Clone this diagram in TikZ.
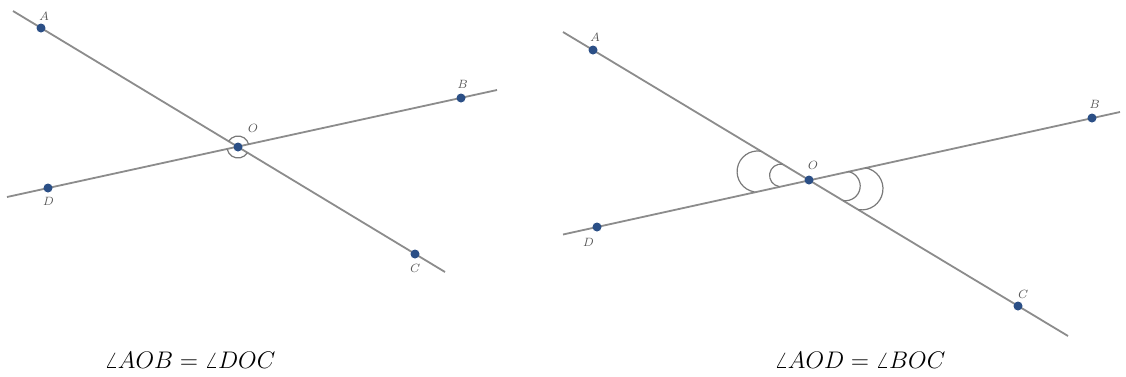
\documentclass[tikz,border=0pt]{standalone}
\definecolor{linegray}{HTML}{8C8C8C}
\definecolor{arcgray}{HTML}{7A7A7A}
\definecolor{dotblue}{HTML}{2B4F86}
\definecolor{labelgray}{HTML}{555555}
\begin{document}
\begin{tikzpicture}[x=0.5pt,y=-0.5pt,
  ln/.style={draw=linegray, line width=0.9pt},
  pt/.style={circle, fill=dotblue, inner sep=0pt, minimum size=4.5pt},
  lbl/.style={font=\fontsize{6}{7}\selectfont\itshape, text=labelgray, inner sep=0pt},
  arcmark/.style={draw=arcgray, line width=0.6pt},
  eq/.style={font=\fontsize{11.7}{14}\selectfont, inner sep=0pt, anchor=base}]
\useasboundingbox (0,0) rectangle (1126,376);
\fill[white] (0,0) rectangle (1126,376);

% ---------- left figure ----------
\coordinate (A1e) at (13,11);
\coordinate (C1e) at (445,272);
\coordinate (D1e) at (7,197);
\coordinate (B1e) at (497,90);
\draw[ln] (A1e) -- (C1e);
\draw[ln] (D1e) -- (B1e);
\node[pt] (A1) at (41,28) {};
\node[pt] (B1) at (461,98) {};
\node[pt] (C1) at (415,254) {};
\node[pt] (D1) at (48,188) {};
\node[pt] (O1) at (238,147) {};
\begin{scope}[yscale=-1]
  \draw[arcmark] (O1.center) ++(12.3:11) arc[start angle=12.3, end angle=149, radius=11];
  \draw[arcmark] (O1.center) ++(192.3:11) arc[start angle=192.3, end angle=329, radius=11];
\end{scope}
\node[lbl] (lA1) at (44,16) {A};
\node[lbl] (lB1) at (462,84) {B};
\node[lbl] (lC1) at (414,268) {C};
\node[lbl] (lD1) at (48,201) {D};
\node[lbl] (lO1) at (252,128) {O};
\node[eq] (eq1) at (190,368) {$\angle AOB = \angle DOC$};

% ---------- right figure ----------
\coordinate (A2e) at (563,32);
\coordinate (C2e) at (1068,336);
\coordinate (D2e) at (563,234.5);
\coordinate (B2e) at (1120,112);
\draw[ln] (A2e) -- (C2e);
\draw[ln] (D2e) -- (B2e);
\node[pt] (A2) at (593,50) {};
\node[pt] (B2) at (1092,118) {};
\node[pt] (C2) at (1018,306) {};
\node[pt] (D2) at (597,227) {};
\node[pt] (O2) at (809,180) {};
\begin{scope}[yscale=-1]
  % angle AOD: two half-circle marks between the rays
  \draw[arcmark] (O2.center) ++(170.65:28.5) ++(80.65:11.3) arc[start angle=80.65, end angle=260.65, radius=11.3];
  \draw[arcmark] (O2.center) ++(170.65:52) ++(80.65:20.6) arc[start angle=80.65, end angle=260.65, radius=20.6];
  % angle BOC
  \draw[arcmark] (O2.center) ++(-9.35:37) ++(80.65:14.7) arc[start angle=80.65, end angle=-99.35, radius=14.7];
  \draw[arcmark] (O2.center) ++(-9.35:53.5) ++(80.65:21.2) arc[start angle=80.65, end angle=-99.35, radius=21.2];
\end{scope}
\node[lbl] (lA2) at (595,37) {A};
\node[lbl] (lB2) at (1094,104) {B};
\node[lbl] (lC2) at (1022,294) {C};
\node[lbl] (lD2) at (588,242) {D};
\node[lbl] (lO2) at (812,165) {O};
\node[eq] (eq2) at (860,368) {$\angle AOD = \angle BOC$};
\end{tikzpicture}
\end{document}
